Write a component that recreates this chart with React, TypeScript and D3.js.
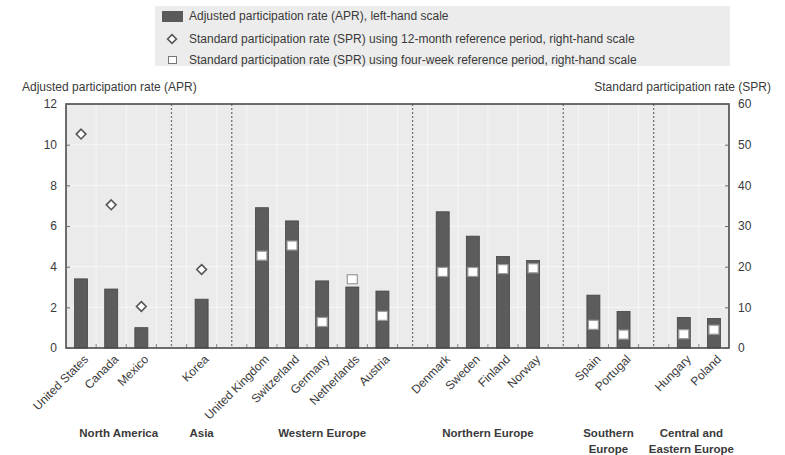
import { useEffect, useRef } from "react";
import * as d3 from "d3";

const groups = [
  "North America",
  "Asia",
  "Western Europe",
  "Northern Europe",
  "Southern Europe",
  "Central and Eastern Europe",
];
const groupLines = [
  ["North America"],
  ["Asia"],
  ["Western Europe"],
  ["Northern Europe"],
  ["Southern", "Europe"],
  ["Central and", "Eastern Europe"],
];
const countries = [
  "United States", "Canada", "Mexico",
  "Korea",
  "United Kingdom", "Switzerland", "Germany", "Netherlands", "Austria",
  "Denmark", "Sweden", "Finland", "Norway",
  "Spain", "Portugal",
  "Hungary", "Poland",
];
const countryGroup = [0, 0, 0, 1, 2, 2, 2, 2, 2, 3, 3, 3, 3, 4, 4, 5, 5];
// adjusted participation rate, left-hand scale
const apr = [3.4, 2.9, 1.0, 2.4, 6.9, 6.25, 3.3, 3.0, 2.8, 6.7, 5.5, 4.5, 4.3, 2.6, 1.8, 1.5, 1.45];
// SPR 12-month reference period, right-hand scale
const spr12 = [52.6, 35.2, 10.2, 19.3, null, null, null, null, null, null, null, null, null, null, null, null, null];
// SPR four-week reference period, right-hand scale
const spr4 = [null, null, null, null, 22.7, 25.2, 6.4, 16.9, 7.9, 18.7, 18.7, 19.4, 19.6, 5.7, 3.3, 3.4, 4.5];
const leftTicks = [0, 2, 4, 6, 8, 10, 12];
const rightTicks = [0, 10, 20, 30, 40, 50, 60];

const legendItems = [
  "Adjusted participation rate (APR), left-hand scale",
  "Standard participation rate (SPR) using 12-month reference period, right-hand scale",
  "Standard participation rate (SPR) using four-week reference period, right-hand scale",
];

const W = 785;
const H = 455;
const plot = { left: 66, right: 729, top: 104, bottom: 348 };
const FONT = "'Liberation Sans Narrow', 'Arial Narrow', 'Liberation Sans', Arial, sans-serif";
const TEXT = "#3a3a3a";
const FS = 12;

export default function App() {
  const svgRef = useRef<SVGSVGElement>(null);

  useEffect(() => {
    const svg = d3.select(svgRef.current);
    svg.selectAll("*").remove();
    svg.attr("font-family", FONT);

    // slots: countries plus one empty separator slot between groups
    const slots: string[] = [];
    const sepSlots: string[] = [];
    groups.forEach((g, gi) => {
      if (gi > 0) {
        const s = "sep" + gi;
        slots.push(s);
        sepSlots.push(s);
      }
      countries.forEach((c, i) => {
        if (countryGroup[i] === gi) slots.push(c);
      });
    });

    const x = d3.scaleBand().domain(slots).range([plot.left, plot.right]);
    const yL = d3.scaleLinear().domain([0, 12]).range([plot.bottom, plot.top]);
    const yR = d3.scaleLinear().domain([0, 60]).range([plot.bottom, plot.top]);
    const cx = (k: string) => x(k)! + x.bandwidth() / 2;

    // legend
    const lg = svg.append("g");
    lg.append("rect")
      .attr("x", 155).attr("y", 6).attr("width", 575).attr("height", 60)
      .attr("fill", "#ececec");
    lg.append("rect")
      .attr("x", 162).attr("y", 11).attr("width", 21).attr("height", 11)
      .attr("fill", "#5a5a5a");
    lg.append("path")
      .attr("d", d3.symbol(d3.symbolDiamond2, 50)())
      .attr("transform", "translate(172,39)")
      .attr("fill", "white").attr("stroke", "#555").attr("stroke-width", 1.6);
    lg.append("rect")
      .attr("x", 168.5).attr("y", 56.5).attr("width", 8).attr("height", 7)
      .attr("fill", "white").attr("stroke", "#777").attr("stroke-width", 1);
    lg.selectAll("text.leg")
      .data(legendItems)
      .enter()
      .append("text")
      .attr("x", 189)
      .attr("y", (_, i) => [16, 39, 60][i])
      .attr("dy", "0.35em")
      .attr("font-size", FS)
      .attr("fill", TEXT)
      .text((d) => d);

    // plot background
    svg.append("rect")
      .attr("x", plot.left).attr("y", plot.top)
      .attr("width", plot.right - plot.left).attr("height", plot.bottom - plot.top)
      .attr("fill", "#ebebeb");

    // gridlines
    svg.append("g")
      .selectAll("line")
      .data(leftTicks.slice(1, -1))
      .enter()
      .append("line")
      .attr("x1", plot.left).attr("x2", plot.right)
      .attr("y1", (d) => yL(d)).attr("y2", (d) => yL(d))
      .attr("stroke", "#f6f6f6").attr("stroke-width", 1);
    svg.append("g")
      .selectAll("line")
      .data(slots.slice(1))
      .enter()
      .append("line")
      .attr("x1", (d) => x(d)!).attr("x2", (d) => x(d)!)
      .attr("y1", plot.top).attr("y2", plot.bottom)
      .attr("stroke", "#f6f6f6").attr("stroke-width", 1);

    // separators
    svg.append("g")
      .selectAll("line")
      .data(sepSlots)
      .enter()
      .append("line")
      .attr("x1", (d) => cx(d)).attr("x2", (d) => cx(d))
      .attr("y1", plot.top).attr("y2", plot.bottom)
      .attr("stroke", "#777").attr("stroke-width", 1.3)
      .attr("stroke-dasharray", "2,2");

    // bottom ticks between slots
    svg.append("g")
      .selectAll("line")
      .data(slots.slice(1))
      .enter()
      .append("line")
      .attr("x1", (d) => x(d)!).attr("x2", (d) => x(d)!)
      .attr("y1", plot.bottom).attr("y2", plot.bottom - 4)
      .attr("stroke", "#888").attr("stroke-width", 1);

    // bars
    const bw = 13;
    svg.append("g")
      .selectAll("rect")
      .data(countries)
      .enter()
      .append("rect")
      .attr("x", (d) => cx(d) - bw / 2)
      .attr("y", (_, i) => yL(apr[i]))
      .attr("width", bw)
      .attr("height", (_, i) => plot.bottom - yL(apr[i]))
      .attr("fill", "#5c5c5c")
      .attr("stroke", "#444")
      .attr("stroke-width", 0.8);

    // diamonds
    svg.append("g")
      .selectAll("path")
      .data(countries.filter((_, i) => spr12[i] != null))
      .enter()
      .append("path")
      .attr("d", d3.symbol(d3.symbolDiamond2, 60)())
      .attr("transform", (d) => `translate(${cx(d)},${yR(spr12[countries.indexOf(d)]!)})`)
      .attr("fill", "white").attr("stroke", "#555").attr("stroke-width", 1.6);

    // squares
    svg.append("g")
      .selectAll("rect")
      .data(countries.filter((_, i) => spr4[i] != null))
      .enter()
      .append("rect")
      .attr("x", (d) => cx(d) - 5)
      .attr("y", (d) => yR(spr4[countries.indexOf(d)]!) - 4.5)
      .attr("width", 10).attr("height", 9)
      .attr("fill", "white").attr("stroke", "#999").attr("stroke-width", 1.2);

    // frame
    svg.append("rect")
      .attr("x", plot.left).attr("y", plot.top)
      .attr("width", plot.right - plot.left).attr("height", plot.bottom - plot.top)
      .attr("fill", "none").attr("stroke", "#4a4a4a").attr("stroke-width", 1.6);

    // left axis
    const la = svg.append("g").attr("transform", `translate(${plot.left},0)`)
      .call(d3.axisLeft(yL).tickValues(leftTicks).tickSize(-4).tickPadding(9));
    la.select(".domain").remove();
    la.selectAll("line").attr("stroke", "#666");
    la.selectAll("text").attr("font-size", FS).attr("fill", TEXT).attr("font-family", FONT);

    const ra = svg.append("g").attr("transform", `translate(${plot.right},0)`)
      .call(d3.axisRight(yR).tickValues(rightTicks).tickSize(-4).tickPadding(9));
    ra.select(".domain").remove();
    ra.selectAll("line").attr("stroke", "#666");
    ra.selectAll("text").attr("font-size", FS).attr("fill", TEXT).attr("font-family", FONT);

    // axis titles
    svg.append("text")
      .attr("x", 22).attr("y", 87).attr("dy", "0.35em")
      .attr("font-size", FS).attr("fill", TEXT)
      .text("Adjusted participation rate (APR)");
    svg.append("text")
      .attr("x", 771).attr("y", 87).attr("dy", "0.35em")
      .attr("text-anchor", "end")
      .attr("font-size", FS).attr("fill", TEXT)
      .text("Standard participation rate (SPR)");

    // country labels
    svg.append("g")
      .selectAll("text")
      .data(countries)
      .enter()
      .append("text")
      .attr("transform", (d) => `translate(${cx(d) + 5},${plot.bottom + 9}) rotate(-45)`)
      .attr("text-anchor", "end")
      .attr("dy", "0.35em")
      .attr("font-size", FS)
      .attr("fill", TEXT)
      .text((d) => d);

    // group labels
    const gl = svg.append("g");
    groups.forEach((g, gi) => {
      const x0 = gi === 0 ? plot.left : cx("sep" + gi);
      const x1 = gi === groups.length - 1 ? plot.right : cx("sep" + (gi + 1));
      const t = gl.append("text")
        .attr("y", 433)
        .attr("text-anchor", "middle")
        .attr("font-size", 11.5)
        .attr("font-weight", "bold")
        .attr("fill", TEXT);
      groupLines[gi].forEach((line, li) => {
        t.append("tspan")
          .attr("x", (x0 + x1) / 2)
          .attr("dy", li === 0 ? "0.35em" : "16")
          .text(line);
      });
    });
  }, []);

  return (
    <svg
      ref={svgRef}
      width={W}
      height={H}
      style={{ position: "absolute", left: 0, top: 0, background: "white" }}
    ></svg>
  );
}
